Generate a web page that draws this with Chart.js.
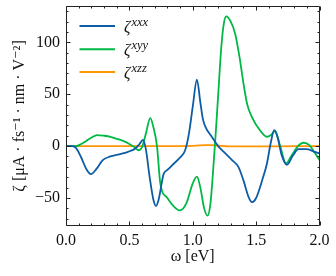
<!DOCTYPE html>
<html>
<head>
<meta charset="utf-8">
<script src="https://cdn.jsdelivr.net/npm/chart.js@4/dist/chart.umd.min.js"></script>
<style>
html,body{margin:0;padding:0;background:#fff;}
#wrap{width:336px;height:276px;}
</style>
</head>
<body>
<div id="wrap"><canvas id="c" width="336" height="276"></canvas></div>
<script>
const seriesNames = ['xxx', 'xyy', 'xzz'];
const seriesColors = ['#0C5DA5', '#00B945', '#FF9500'];

const omegaXXX = [0, 0.05, 0.08, 0.12, 0.16, 0.197, 0.24, 0.29, 0.35, 0.42, 0.49, 0.55, 0.58, 0.607, 0.63, 0.66, 0.69, 0.71, 0.73, 0.77, 0.8, 0.85, 0.9, 0.94, 0.97, 1.0, 1.033, 1.06, 1.08, 1.1, 1.15, 1.2, 1.243, 1.31, 1.36, 1.4, 1.44, 1.467, 1.5, 1.55, 1.585, 1.615, 1.643, 1.67, 1.7, 1.743, 1.79, 1.834, 1.9, 1.95, 2.0];
const zetaXXX  = [0, 0, -2, -11, -22, -27, -22, -13.5, -10, -8, -5.5, -2, 2, 6, -3, -30, -52, -57.7, -52, -27, -23, -17, -11, -4, 12, 38, 64, 42, 26, 18.6, 9, 0, -5.4, -13.5, -20, -33, -49, -54, -50, -32, -17, 3, 15.4, 8, -8, -18, -9, -3, -3, -5, -7];

const omegaXYY = [0, 0.08, 0.12, 0.16, 0.2, 0.245, 0.3, 0.35, 0.4, 0.45, 0.5, 0.54, 0.57, 0.6, 0.63, 0.665, 0.69, 0.718, 0.744, 0.8, 0.85, 0.9, 0.95, 1.0, 1.033, 1.06, 1.09, 1.117, 1.14, 1.16, 1.18, 1.2, 1.225, 1.245, 1.264, 1.3, 1.335, 1.37, 1.4, 1.43, 1.467, 1.52, 1.585, 1.62, 1.65, 1.69, 1.735, 1.78, 1.83, 1.874, 1.92, 1.96, 2.0];
const zetaXYY  = [0, 0, 2, 5, 8, 10.6, 10, 9, 7, 5, 2, -1, -4, -1, 12, 27, 18, 0, -36, -50, -58, -62, -55, -36, -29.5, -40, -60, -67, -55, -25, 10, 48, 95, 118, 125, 120, 108, 85, 60.5, 40, 28, 17, 9, 11, 14.7, 0, -16.7, -9, 0, 3.2, 1, -6, -13.5];

const omegaXZZ = [0, 0.5, 1.0, 1.1, 1.14, 1.2, 1.3, 1.6, 2.0];
const zetaXZZ  = [0, 0, 0.3, 0.9, 1, 0.4, -0.3, -0.3, 0];

const xTickValues = [0, 0.5, 1.0, 1.5, 2.0];
const yTickValues = [-50, 0, 50, 100];

const SERIF = "'Liberation Serif', 'DejaVu Serif', serif";

function pts(xs, ys) { return xs.map((x, i) => ({x: x, y: ys[i]})); }

const framePlugin = {
  id: 'frameTicks',
  afterDatasetsDraw(chart) {
    const ctx = chart.ctx, a = chart.chartArea;
    const xs = chart.scales.x, ys = chart.scales.y;
    ctx.save();
    ctx.strokeStyle = '#222';
    ctx.lineWidth = 1;
    ctx.beginPath();
    const L = Math.round(a.left) + 0.5, R = Math.round(a.right) - 0.5, T = Math.round(a.top) + 0.5, B = Math.round(a.bottom) - 0.5;
    ctx.rect(L, T, R - L, B - T);
    for (let i = 0; i <= 20; i++) {
      const v = i / 10;
      const px = Math.round(xs.getPixelForValue(v)) + 0.5;
      const len = (i % 5 === 0) ? 4 : 2;
      ctx.moveTo(px, B); ctx.lineTo(px, B - len);
      ctx.moveTo(px, T); ctx.lineTo(px, T + len);
    }
    for (let v = -70; v <= 130; v += 10) {
      const py = Math.round(ys.getPixelForValue(v)) + 0.5;
      const len = (v % 50 === 0) ? 4 : 2;
      ctx.moveTo(L, py); ctx.lineTo(L + len, py);
      ctx.moveTo(R, py); ctx.lineTo(R - len, py);
    }
    ctx.stroke();
    ctx.restore();
  },
  afterDraw(chart) {
    const ctx = chart.ctx;
    ctx.save();
    const rows = [26, 49.3, 72];
    chart.data.datasets.forEach((ds, i) => {
      const y = rows[i];
      ctx.strokeStyle = ds.borderColor;
      ctx.lineWidth = 2;
      ctx.beginPath();
      ctx.moveTo(79.5, y); ctx.lineTo(115, y);
      ctx.stroke();
      ctx.fillStyle = '#111';
      ctx.textBaseline = 'alphabetic';
      ctx.textAlign = 'left';
      ctx.font = 'italic 16px ' + SERIF;
      ctx.fillText('ζ', 124, y + 6);
      const w = ctx.measureText('ζ').width;
      ctx.font = 'italic 12.5px ' + SERIF;
      ctx.fillText(ds.label.replace('ζ', ''), 124 + w + 1, y);
    });
    ctx.restore();
  }
};

function noPad(s) { s.paddingTop = 0; s.paddingBottom = 0; s.paddingLeft = 0; s.paddingRight = 0; }

new Chart(document.getElementById('c'), {
  type: 'line',
  data: {
    datasets: [
      {label: 'ζ' + seriesNames[0], data: pts(omegaXXX, zetaXXX), borderColor: seriesColors[0]},
      {label: 'ζ' + seriesNames[1], data: pts(omegaXYY, zetaXYY), borderColor: seriesColors[1]},
      {label: 'ζ' + seriesNames[2], data: pts(omegaXZZ, zetaXZZ), borderColor: seriesColors[2]}
    ]
  },
  options: {
    responsive: false,
    animation: false,
    devicePixelRatio: 1,
    elements: {
      point: {radius: 0},
      line: {borderWidth: 1.8, cubicInterpolationMode: 'monotone', fill: false}
    },
    layout: {padding: {left: 0, right: 16.5, top: 6, bottom: 0}},
    plugins: {legend: {display: false}, tooltip: {enabled: false}},
    scales: {
      x: {
        type: 'linear', min: 0, max: 2,
        afterBuildTicks(s) { s.ticks = xTickValues.map(v => ({value: v})); },
        afterFit(s) { s.height = 50; noPad(s); },
        grid: {display: false, drawTicks: false},
        border: {display: false},
        ticks: {padding: 5, color: '#111', font: {family: SERIF, size: 16},
          callback: v => Number(v).toFixed(1), maxRotation: 0},
        title: {display: true, text: 'ω [eV]', color: '#111', font: {family: SERIF, size: 16}, padding: {top: 0, bottom: 10}}
      },
      y: {
        type: 'linear', min: -77, max: 135,
        afterBuildTicks(s) { s.ticks = yTickValues.map(v => ({value: v})); },
        afterFit(s) { s.width = 66; noPad(s); },
        grid: {display: false, drawTicks: false},
        border: {display: false},
        ticks: {padding: 6, color: '#111', font: {family: SERIF, size: 16},
          callback: v => v < 0 ? '\u2212' + Math.abs(v) : String(v)},
        title: {display: true, text: 'ζ [μA · fs⁻¹ · nm · V⁻²]', color: '#111', font: {family: SERIF, size: 16}, padding: {top: 10, bottom: 0}}
      }
    }
  },
  plugins: [framePlugin]
});
</script>
</body>
</html>
